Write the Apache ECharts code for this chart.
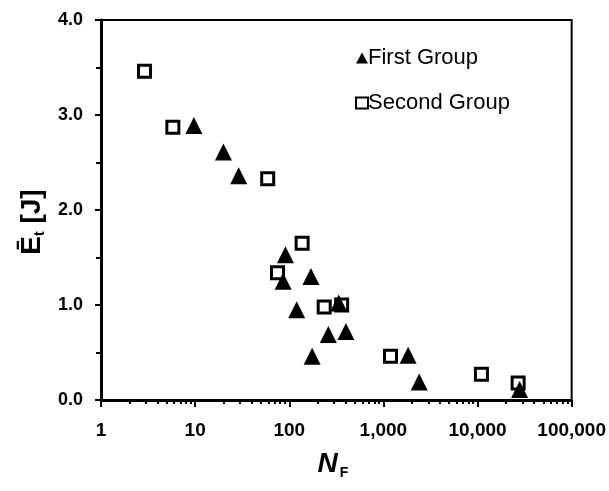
<!DOCTYPE html>
<html><head><meta charset="utf-8">
<script src="https://cdn.jsdelivr.net/npm/echarts@6/dist/echarts.min.js"></script>
<style>html,body{margin:0;padding:0;background:#fff}#c{width:609px;height:491px}</style>
</head><body><div id="c"></div>
<script>
const seriesNames = ['First Group', 'Second Group'];
const firstNF = [9.7, 20, 29, 91, 86, 170, 120, 260, 400, 335, 175, 1830, 2400, 28000];
const firstE  = [2.89, 2.61, 2.36, 1.53, 1.25, 1.30, 0.95, 0.69, 0.72, 1.02, 0.46, 0.47, 0.19, 0.11];
const secondNF = [2.9, 5.8, 59, 137, 75, 235, 360, 1190, 11000, 27000];
const secondE  = [3.46, 2.87, 2.33, 1.65, 1.34, 0.98, 1.00, 0.46, 0.27, 0.18];
const xTickValues = [1, 10, 100, 1000, 10000, 100000];
const yTickValues = [0, 1, 2, 3, 4];

const minorLog = [];
for (let d = 0; d < 5; d++) for (let m = 2; m <= 9; m++) minorLog.push(d + Math.log10(m));

const font = 'Liberation Sans, Arial, sans-serif';
const chart = echarts.init(document.getElementById('c'));
chart.setOption({
  animation: false,
  backgroundColor: '#fff',
  grid: { left: 101, right: 37, top: 20, bottom: 91, show: true, borderColor: '#000', borderWidth: 2 },
  legend: {
    data: seriesNames, orient: 'vertical', left: 350, top: 42, itemGap: 23,
    itemWidth: 12, itemHeight: 11,
    textStyle: { fontFamily: font, fontSize: 22, color: '#000', padding: [0,0,0,-5] }
  },
  xAxis: [{
    type: 'log', logBase: 10, min: xTickValues[0], max: xTickValues[xTickValues.length - 1],
    position: 'bottom',
    name: '{a|N}{b|F}', nameLocation: 'middle', nameGap: 48,
    nameTextStyle: { padding: [0, 7, 0, 0], rich: {
      a: { fontFamily: font, fontSize: 28, fontWeight: 'bold', fontStyle: 'italic', color: '#000' },
      b: { fontFamily: font, fontSize: 14, fontWeight: 'bold', color: '#000', padding: [18, 0, 0, 2] }
    } },
    axisLine: { lineStyle: { color: '#000', width: 3 } },
    axisTick: { show: true, inside: false, length: 7, lineStyle: { color: '#000', width: 2 } },
    axisLabel: { margin: 21, fontFamily: font, fontSize: 19, fontWeight: 'bold', color: '#000',
      formatter: v => Number(v).toLocaleString('en-US') },
    splitLine: { show: false }
  }, {
    type: 'value', min: 0, max: 5, position: 'bottom',
    axisLine: { show: false },
    axisTick: { show: true, customValues: minorLog, length: 4, lineStyle: { color: '#000', width: 2 } },
    axisLabel: { show: false }, splitLine: { show: false }
  }],
  yAxis: {
    type: 'value', min: yTickValues[0], max: yTickValues[yTickValues.length - 1], interval: 1,
    name: '{a|Ē}{b|t}{a| [J]}', nameLocation: 'middle', nameGap: 54, nameRotate: 90,
    nameTextStyle: { padding: [0, 24, 0, 0], rich: {
      a: { fontFamily: font, fontSize: 28, fontWeight: 'bold', color: '#000' },
      b: { fontFamily: font, fontSize: 14, fontWeight: 'bold', color: '#000', padding: [16, 0, 0, 0] }
    } },
    axisLine: { lineStyle: { color: '#000', width: 3 } },
    axisTick: { length: 6, lineStyle: { color: '#000', width: 2 } },
    minorTick: { show: true, splitNumber: 2, length: 5, lineStyle: { color: '#000', width: 2 } },
    axisLabel: { margin: 18, fontFamily: font, fontSize: 18, fontWeight: 'bold', color: '#000',
      formatter: v => v.toFixed(1) },
    splitLine: { show: false }
  },
  series: [{
    name: seriesNames[1], type: 'scatter', xAxisIndex: 0,
    data: secondNF.map((x, i) => [x, secondE[i]]),
    symbol: 'rect', symbolSize: 12,
    itemStyle: { color: '#fff', borderColor: '#000', borderWidth: 3, opacity: 1 }
  }, {
    name: seriesNames[0], type: 'scatter', xAxisIndex: 0,
    data: firstNF.map((x, i) => [x, firstE[i]]),
    symbol: 'triangle', symbolSize: [17, 17],
    itemStyle: { color: '#000', opacity: 1 }
  }]
});
</script></body></html>
